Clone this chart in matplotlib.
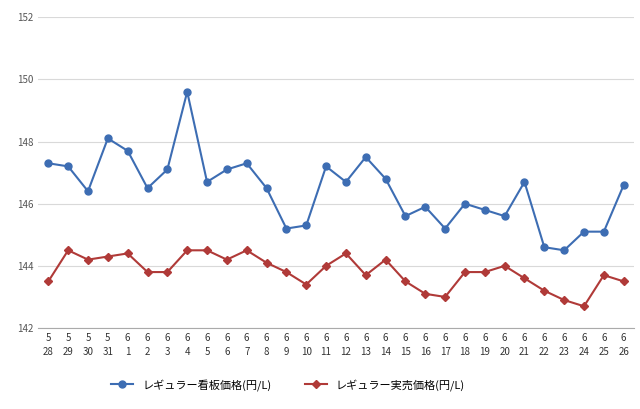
import matplotlib
matplotlib.use("Agg")
import matplotlib.pyplot as plt

months = [5,5,5,5] + [6]*26
days = [28,29,30,31] + list(range(1,27))
labels = [f"{m}\n{d}" for m, d in zip(months, days)]
signboard = [147.3,147.2,146.4,148.1,147.7,146.5,147.1,149.6,146.7,147.1,147.3,146.5,145.2,145.3,147.2,
             146.7,147.5,146.8,145.6,145.9,145.2,146.0,145.8,145.6,146.7,144.6,144.5,145.1,145.1,146.6]
actual = [143.5,144.5,144.2,144.3,144.4,143.8,143.8,144.5,144.5,144.2,144.5,144.1,143.8,143.4,144.0,
          144.4,143.7,144.2,143.5,143.1,143.0,143.8,143.8,144.0,143.6,143.2,142.9,142.7,143.7,143.5]

plt.rcParams['font.family'] = ['Noto Sans CJK JP']
fig = plt.figure(figsize=(6.4, 4.09), dpi=100)
ax = fig.add_axes([0.06, 0.198, 0.93, 0.76])
x = list(range(len(labels)))
ax.plot(x, signboard, color='#3d6db3', lw=1.5, marker='o', ms=5, label='レギュラー看板価格(円/L)')
ax.plot(x, actual, color='#b03a38', lw=1.5, marker='D', ms=4, label='レギュラー実売価格(円/L)')
ax.set_ylim(142, 152)
ax.set_yticks(range(142, 153, 2))
ax.set_xlim(-0.5, len(labels) - 0.5)
ax.set_xticks(x)
ax.set_xticklabels(labels, fontsize=7, linespacing=1.5)
ax.tick_params(axis='y', labelsize=7, length=0, colors='#555555')
ax.tick_params(axis='x', length=0, colors='#333333')
ax.grid(axis='y', color='#d9d9d9', lw=0.8)
ax.set_axisbelow(True)
for s in ['top', 'right', 'left']:
    ax.spines[s].set_visible(False)
ax.spines['bottom'].set_color('#aaaaaa')
fig.legend(loc='lower center', bbox_to_anchor=(0.45, 0.02), ncol=2, frameon=False, fontsize=8, columnspacing=3)
fig.savefig('out.png', dpi=100)
